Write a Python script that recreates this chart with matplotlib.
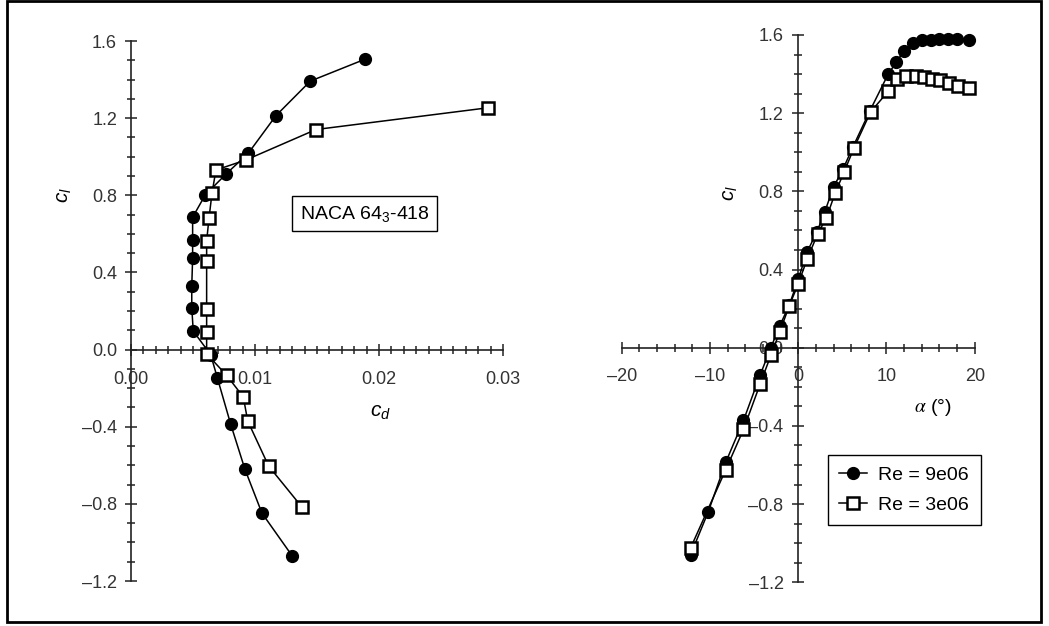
"""NACA 64(3)-418 drag polar and lift curve, two Reynolds numbers."""

import matplotlib.pyplot as plt
from matplotlib.patches import Rectangle
from matplotlib.ticker import FuncFormatter, MultipleLocator

plt.rcParams["font.family"] = ["Liberation Sans", "DejaVu Sans"]
plt.rcParams["mathtext.fontset"] = "custom"
plt.rcParams["mathtext.rm"] = "Liberation Sans"
plt.rcParams["mathtext.it"] = "Liberation Sans:italic"

# drag polar (left panel)
cl_polar_9e6 = [-1.068, -0.848, -0.621, -0.387, -0.146, -0.027, 0.096, 0.218, 0.330,
                0.473, 0.568, 0.686, 0.802, 0.910, 1.018, 1.213, 1.392, 1.505]
cd_polar_9e6 = [0.01298, 0.01056, 0.00919, 0.00804, 0.00696, 0.00643, 0.00502, 0.00490, 0.00490,
                0.00497, 0.00497, 0.00497, 0.00599, 0.00766, 0.00946, 0.01169, 0.01446, 0.01885]
cl_polar_3e6 = [-0.817, -0.604, -0.370, -0.246, -0.134, -0.022, 0.093, 0.208, 0.458,
                0.563, 0.681, 0.810, 0.931, 0.984, 1.141, 1.254]
cd_polar_3e6 = [0.01379, 0.01110, 0.00941, 0.00906, 0.00772, 0.00610, 0.00610, 0.00610, 0.00610,
                0.00610, 0.00629, 0.00653, 0.00685, 0.00930, 0.01492, 0.02882]

# lift curve (right panel)
alpha_9e6 = [-12.2, -10.2, -8.2, -6.2, -4.3, -3.1, -2.1, -1.0, 0.0, 1.0, 2.1, 3.0, 4.0,
             5.1, 6.2, 8.1, 10.2, 11.1, 12.0, 13.0, 14.0, 15.0, 16.0, 17.0, 18.0, 19.3]
cl_9e6 = [-1.06, -0.84, -0.585, -0.372, -0.138, 0.0, 0.111, 0.22, 0.35, 0.49, 0.59, 0.694, 0.822,
          0.916, 1.027, 1.21, 1.40, 1.46, 1.52, 1.56, 1.572, 1.576, 1.578, 1.578, 1.578, 1.576]
alpha_3e6 = [-12.2, -8.2, -6.2, -4.3, -3.1, -2.1, -1.0, 0.0, 1.0, 2.2, 3.2, 4.2, 5.2, 6.3,
             8.2, 10.2, 11.2, 12.2, 13.3, 14.2, 15.2, 16.1, 17.1, 18.1, 19.3]
cl_3e6 = [-1.025, -0.623, -0.418, -0.184, -0.039, 0.08, 0.216, 0.326, 0.452, 0.582, 0.665, 0.793,
          0.899, 1.02, 1.206, 1.312, 1.377, 1.39, 1.39, 1.385, 1.377, 1.368, 1.356, 1.339, 1.329]

W, H = 1049, 626
fig = plt.figure(figsize=(W / 100, H / 100), dpi=100)
ax1 = fig.add_axes([131 / W, 1 - 581 / H, 372 / W, 540 / H])
ax2 = fig.add_axes([621.7 / W, 1 - 582.3 / H, 353 / W, 547.3 / H])

circle = dict(color="black", lw=1.1, marker="o", ms=8.5, mfc="black", mec="black",
              zorder=3, clip_on=False)
square = dict(color="black", lw=1.1, marker="s", ms=8, mfc="white", mec="black", mew=1.8,
              zorder=4, clip_on=False)


def dash(fmt):
    return FuncFormatter(lambda v, p: (fmt % v).replace("-", "\u2013"))


def style(ax, xmaj, xmin, xfmt, xpad, ypad):
    for s in ("top", "right"):
        ax.spines[s].set_visible(False)
    ax.spines["left"].set_position(("data", 0))
    ax.spines["bottom"].set_position(("data", 0))
    for s in ("left", "bottom"):
        ax.spines[s].set_linewidth(1.2)
        ax.spines[s].set_color("#222222")
    ax.xaxis.set_major_locator(MultipleLocator(xmaj))
    ax.xaxis.set_minor_locator(MultipleLocator(xmin))
    ax.yaxis.set_major_locator(MultipleLocator(0.4))
    ax.yaxis.set_minor_locator(MultipleLocator(0.1))
    ax.xaxis.set_major_formatter(dash(xfmt))
    ax.yaxis.set_major_formatter(dash("%.1f"))
    ax.tick_params(which="both", direction="inout", width=1.1, color="#222222",
                   labelcolor="#333333", labelsize=13)
    ax.tick_params(which="major", length=9)
    ax.tick_params(which="minor", length=6)
    ax.tick_params(axis="x", which="major", pad=xpad)
    ax.tick_params(axis="y", which="major", pad=ypad)
    ax.set_ylim(-1.2, 1.6)
    ax.patch.set_visible(False)


ax1.plot(cd_polar_9e6, cl_polar_9e6, **circle)
ax1.plot(cd_polar_3e6, cl_polar_3e6, **square)
ax1.set_xlim(0, 0.03)
style(ax1, 0.01, 0.001, "%.2f", 11, 5.5)

ax2.plot(alpha_9e6, cl_9e6, label="Re = 9e06", **circle)
ax2.plot(alpha_3e6, cl_3e6, label="Re = 3e06", **square)
ax2.set_xlim(-20, 20)
style(ax2, 10, 2, "%d", 10, 6)

leg = ax2.legend(loc="upper left", bbox_to_anchor=(827.7 / W, 1 - 455 / H),
                 bbox_transform=fig.transFigure, borderaxespad=0, fontsize=14,
                 handlelength=1.4, handletextpad=0.6, borderpad=0.6, labelspacing=0.6,
                 fancybox=False, edgecolor="black", framealpha=1)
leg.get_frame().set_linewidth(1.0)

fig.text(65 / W, 1 - 195 / H, r"$c_l$", rotation=90, ha="center", va="center", fontsize=15)
fig.text(730 / W, 1 - 193 / H, r"$c_l$", rotation=90, ha="center", va="center", fontsize=15)
fig.text(380 / W, 1 - 413 / H, r"$c_d$", ha="center", va="center", fontsize=15)
fig.text(933 / W, 1 - 407 / H, r"$\alpha$ (°)", ha="center", va="center", fontsize=14,
         math_fontfamily="stix")
fig.text(364.7 / W, 1 - 213.5 / H, r"NACA 64$_3$-418", ha="center", va="center", fontsize=14,
         bbox=dict(boxstyle="square,pad=0.4", fc="white", ec="black", lw=1.0))

fig.patches.append(Rectangle((7 / W, 4 / H), 1034 / W, 621 / H, transform=fig.transFigure,
                             fill=False, ec="black", lw=2))

fig.savefig("out.png", dpi=100)
